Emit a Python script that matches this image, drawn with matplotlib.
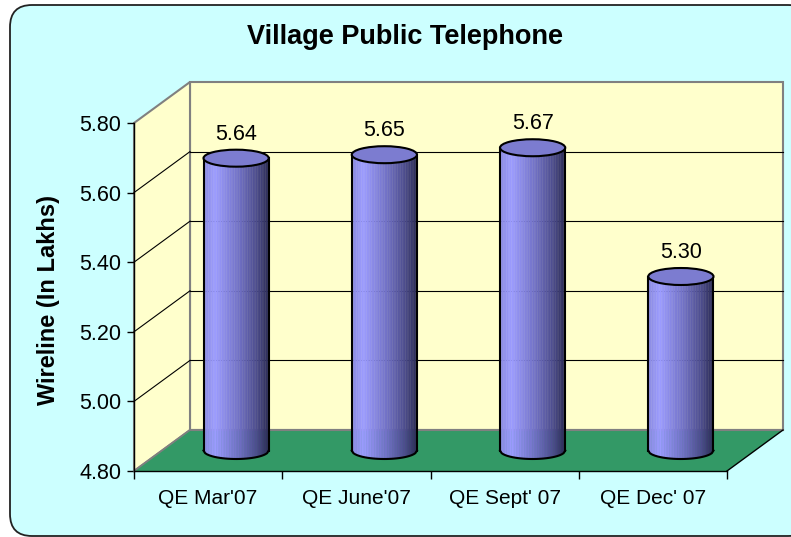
import numpy as np
import matplotlib
matplotlib.use('Agg')
import matplotlib.pyplot as plt
from matplotlib.patches import Polygon, Ellipse, FancyBboxPatch
from matplotlib.transforms import IdentityTransform
from matplotlib.colors import LinearSegmentedColormap

plt.rcParams['font.family'] = ['Liberation Sans', 'DejaVu Sans']

# 数据
quarters = ["QE Mar'07", "QE June'07", "QE Sept' 07", "QE Dec' 07"]
values = [5.64, 5.65, 5.67, 5.30]
y_ticks = [4.80, 5.00, 5.20, 5.40, 5.60, 5.80]

title = 'Village Public Telephone'
ylabel = 'Wireline (In Lakhs)'

W, H = 791, 537
fig = plt.figure(figsize=(W / 100, H / 100), dpi=100)
fig.patch.set_facecolor('white')

# 背景圆角框
bg = FancyBboxPatch((10, 1), 800, 531, boxstyle='round,pad=0,rounding_size=22',
                    fc='#CCFFFF', ec='#222222', lw=1.3, transform=IdentityTransform(),
                    zorder=-5)
fig.add_artist(bg)

# 前平面 = 坐标轴
ax = fig.add_axes([134 / W, (H - 471) / H, (727 - 134) / W, (471 - 123) / H])
ax.set_xlim(0, len(quarters))
ax.set_ylim(4.8, 5.8)
ax.patch.set_facecolor('none')

depth = np.array([56.0, 41.0])
ident = IdentityTransform()


def P(x, v, d):
    return ax.transData.transform((x, v)) + d * depth


def poly(pts, **kw):
    p = Polygon(np.array(pts), closed=True, transform=ident, clip_on=False, **kw)
    ax.add_patch(p)
    return p


def line(a, b, **kw):
    ax.plot([a[0], b[0]], [a[1], b[1]], transform=ident, clip_on=False, **kw)


n = len(quarters)
ymin, ymax = 4.8, 5.8

# 墙面
poly([P(0, ymin, 1), P(n, ymin, 1), P(n, ymax, 1), P(0, ymax, 1)],
     fc='#FFFFCC', ec='#808080', lw=1.5, zorder=1)
poly([P(0, ymin, 0), P(0, ymax, 0), P(0, ymax, 1), P(0, ymin, 1)],
     fc='#FFFFCC', ec='#808080', lw=1.5, zorder=1)

# 网格线
for v in y_ticks[1:-1]:
    line(P(0, v, 0), P(0, v, 1), color='black', lw=0.8, zorder=2)
    line(P(0, v, 1), P(n, v, 1), color='black', lw=0.8, zorder=2)

# 地面
poly([P(0, ymin, 0), P(n, ymin, 0), P(n, ymin, 1), P(0, ymin, 1)],
     fc='#339966', ec='none', zorder=3)
line(P(0, ymin, 1), P(n, ymin, 1), color='#808080', lw=1.5, zorder=3)
line(P(0, ymin, 0), P(0, ymin, 1), color='#808080', lw=1.2, zorder=3)
line(P(n, ymin, 0), P(n, ymin, 1), color='black', lw=1.0, zorder=3)

# 圆柱
cmap = LinearSegmentedColormap.from_list('cyl', [
    (0.0, '#8A8AE0'), (0.18, '#9C9CFF'), (0.55, '#7070C4'),
    (0.82, '#4C4C8C'), (1.0, '#2C2C55')])
b = 8.5
for i, val in enumerate(values):
    cx, top_y = P(i + 0.5, val, 0.5)
    _, bot_y = P(i + 0.5, ymin, 0.5)
    slot = P(1, ymin, 0)[0] - P(0, ymin, 0)[0]
    hw = 0.22 * slot
    xs = np.linspace(cx - hw, cx + hw, 41)
    ybot = bot_y - b * np.sqrt(np.clip(1 - ((xs - cx) / hw) ** 2, 0, 1))
    for k in range(len(xs) - 1):
        t = (k + 0.5) / (len(xs) - 1)
        poly([(xs[k], top_y), (xs[k + 1], top_y), (xs[k + 1], ybot[k + 1]), (xs[k], ybot[k])],
             fc=cmap(t), ec=cmap(t), lw=0.3, zorder=5 + i)
    ax.plot(xs, ybot, color='black', lw=1.5, transform=ident, clip_on=False, zorder=5 + i)
    line((cx - hw, top_y), (cx - hw, bot_y), color='black', lw=1.5, zorder=5 + i)
    line((cx + hw, top_y), (cx + hw, bot_y), color='black', lw=1.5, zorder=5 + i)
    top = Ellipse((cx, top_y), 2 * hw, 2 * b, fc='#7C7CD0', ec='black', lw=1.5,
                  transform=ident, clip_on=False, zorder=5 + i)
    ax.add_patch(top)
    ax.text(cx, top_y + 24, f'{val:.2f}', transform=ident, ha='center', va='center',
            fontsize=15.5, zorder=10)

# 坐标轴
for s in ['top', 'right']:
    ax.spines[s].set_visible(False)
for s in ['left', 'bottom']:
    ax.spines[s].set_color('black')
    ax.spines[s].set_linewidth(1.0)
    ax.spines[s].set_zorder(4)
ax.set_yticks(y_ticks)
ax.set_yticklabels([f'{v:.2f}' for v in y_ticks], fontsize=15.5)
ax.tick_params(axis='y', length=5, width=1, pad=4, direction='out')
ax.set_xticks(range(n + 1))
ax.set_xticklabels([''] * (n + 1))
ax.tick_params(axis='x', which='major', length=6, width=1, direction='out')
ax.set_xticks([i + 0.5 for i in range(n)], minor=True)
ax.set_xticklabels(quarters, minor=True, fontsize=15)
ax.tick_params(axis='x', which='minor', length=0, pad=13)

fig.text(405 / W, 1 - 37 / H, title, ha='center', va='center', fontsize=19.5, fontweight='bold')
fig.text(49 / W, 1 - 300 / H, ylabel, ha='center', va='center', rotation=90,
         fontsize=17, fontweight='bold')

fig.savefig('out.png', dpi=100)
